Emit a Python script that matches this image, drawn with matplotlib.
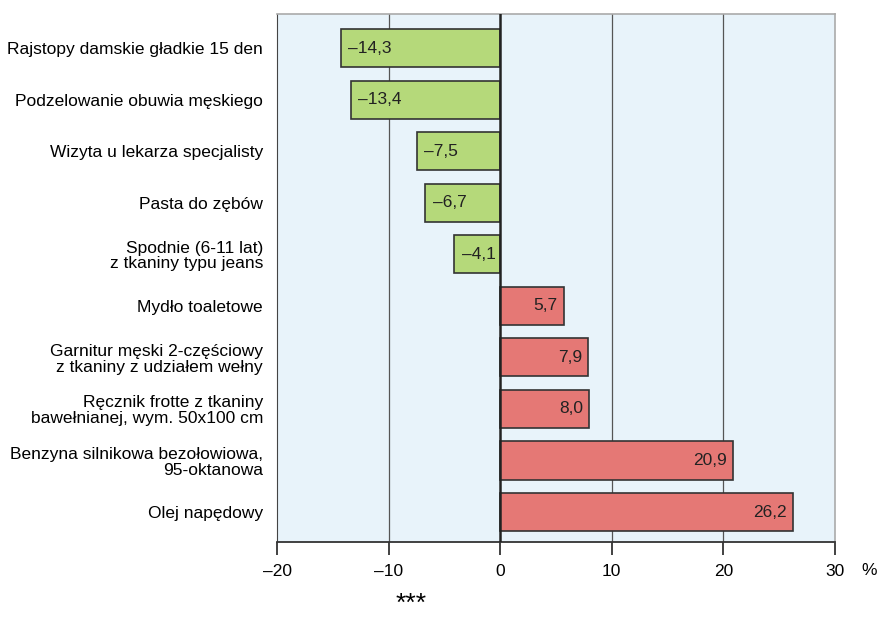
import matplotlib.pyplot as plt
import numpy as np

plt.rcParams['font.family'] = ['Liberation Sans', 'DejaVu Sans']

labels = ['Rajstopy damskie gładkie 15 den',
          'Podzelowanie obuwia męskiego',
          'Wizyta u lekarza specjalisty',
          'Pasta do zębów',
          'Spodnie (6-11 lat)\nz tkaniny typu jeans',
          'Mydło toaletowe',
          'Garnitur męski 2-częściowy\nz tkaniny z udziałem wełny',
          'Ręcznik frotte z tkaniny\nbawełnianej, wym. 50x100 cm',
          'Benzyna silnikowa bezołowiowa,\n95-oktanowa',
          'Olej napędowy']
values = [-14.3, -13.4, -7.5, -6.7, -4.1, 5.7, 7.9, 8.0, 20.9, 26.2]
xticks = [-20, -10, 0, 10, 20, 30]

fig = plt.figure(figsize=(8.78, 6.3), dpi=100)
ax = fig.add_axes([0.3155, 0.1397, 0.6355, 0.838])
ax.set_facecolor('#e8f3fa')

y = np.arange(len(values))
colors = ['#b5d97a' if v < 0 else '#e57875' for v in values]
ax.barh(y, values, height=0.74, color=colors, edgecolor='#333333', linewidth=1.2, zorder=3)

for gx in [-10, 10, 20]:
    ax.axvline(gx, color='#555555', lw=0.9, zorder=1)
ax.axvline(0, color='#222222', lw=1.8, zorder=4)

for yi, v in zip(y, values):
    s = ('%.1f' % v).replace('.', ',').replace('-', '\u2013')
    if v < 0:
        ax.text(v + 0.7, yi, s, ha='left', va='center', fontsize=12.5, color='#222222', zorder=5)
    else:
        ax.text(v - 0.55, yi, s, ha='right', va='center', fontsize=12.5, color='#222222', zorder=5)

ax.set_xlim(-20, 30)
ax.set_ylim(9.58, -0.66)
ax.set_xticks(xticks)
ax.set_xticklabels([str(t).replace('-', '\u2013') for t in xticks], fontsize=12.5)
ax.set_yticks(y)
ax.set_yticklabels(labels, fontsize=12.5, linespacing=1.05)
ax.tick_params(axis='y', length=0, pad=10)
ax.tick_params(axis='x', length=9, width=1.3, color='#333333', pad=7)

for side in ['top', 'right']:
    ax.spines[side].set_color('#aaaaaa')
    ax.spines[side].set_linewidth(1.2)
ax.spines['left'].set_color('#444444')
ax.spines['bottom'].set_color('#333333')
ax.spines['bottom'].set_linewidth(1.3)

fig.text(0.99, 0.094, '%', ha='center', va='center', fontsize=12.5)
fig.text(0.468, 0.042, '***', ha='center', va='center', fontsize=19)

plt.savefig('out.png', dpi=100)
